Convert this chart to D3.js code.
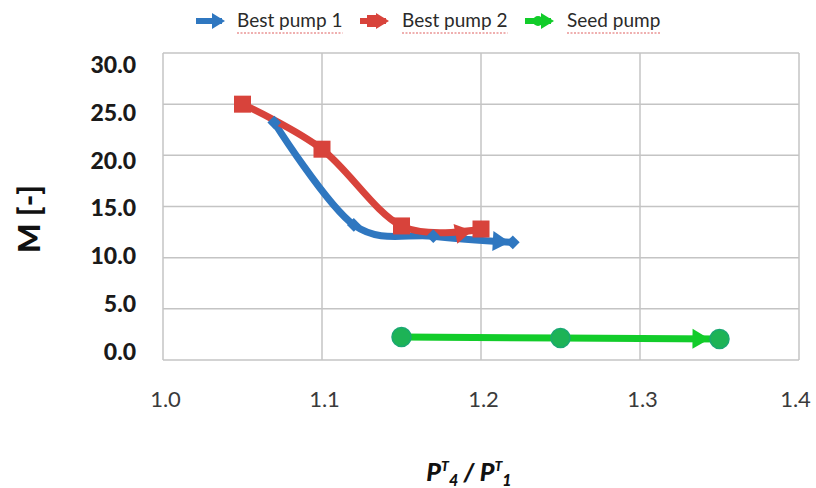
<!DOCTYPE html>
<html><head><meta charset="utf-8">
<script src="https://cdn.jsdelivr.net/npm/d3@7"></script>
<style>body{margin:0;background:#fff;} svg{display:block;}</style>
</head><body>
<svg id="chart" width="816" height="488"></svg>
<script>
// ---- data ----
const bestPump1X = [1.07, 1.12, 1.17, 1.22];
const bestPump1Y = [23.2, 13.2, 12.1, 11.5];
const bestPump2X = [1.05, 1.10, 1.15, 1.20];
const bestPump2Y = [25.0, 20.6, 13.1, 12.8];
const seedPumpX = [1.15, 1.25, 1.35];
const seedPumpY = [2.25, 2.15, 2.05];
const seriesNames = ["Best pump 1", "Best pump 2", "Seed pump"];
const xTicks = [1.0, 1.1, 1.2, 1.3, 1.4];
const yTicks = [0, 5, 10, 15, 20, 25, 30];

const svg = d3.select("#chart");
const L = 163, R = 799, T = 53, B = 360;
const x = d3.scaleLinear().domain([1.0, 1.4]).range([L, R]);
const y = d3.scaleLinear().domain([0, 30]).range([B, T]);
// tick labels in the source are spread slightly differently from the gridlines
const yLab = d3.scaleLinear().domain([0, 30]).range([352, 65]);

const font = "Lato, 'Open Sans', sans-serif";

// gridlines
svg.append("g").selectAll("line.h").data(yTicks).join("line")
  .attr("x1", L).attr("x2", R).attr("y1", d => y(d)).attr("y2", d => y(d))
  .attr("stroke", "#c4c4c4").attr("stroke-width", 1.5);
svg.append("g").selectAll("line.v").data(xTicks).join("line")
  .attr("x1", d => x(d)).attr("x2", d => x(d)).attr("y1", T).attr("y2", B)
  .attr("stroke", "#c4c4c4").attr("stroke-width", 1.5);

// x axis labels via d3 axis
const xAxis = svg.append("g").attr("transform", `translate(2,${B})`)
  .call(d3.axisBottom(x).tickValues(xTicks).tickFormat(d3.format(".1f")).tickSize(0).tickPadding(31));
xAxis.select(".domain").remove();
xAxis.selectAll("text").attr("font-family", font).attr("font-size", 22).attr("fill", "#3a3a3a")
  .attr("dx", d => d === 1.4 ? -6 : 0);

// y axis labels
const yAxis = svg.append("g").attr("transform", `translate(136,0)`)
  .call(d3.axisLeft(yLab).tickValues(yTicks).tickFormat(d3.format(".1f")).tickSize(0).tickPadding(0));
yAxis.select(".domain").remove();
yAxis.selectAll("text").attr("font-family", font).attr("font-size", 23).attr("font-weight", "900").attr("fill", "#1a1a1a");

// axis titles
svg.append("text").attr("transform", "translate(40,219) rotate(-90)")
  .attr("text-anchor", "middle").attr("font-family", font).attr("font-size", 31)
  .attr("font-weight", "900").attr("fill", "#111").text("M [-]");

const xt = svg.append("text").attr("x", 469).attr("y", 481).attr("text-anchor", "middle")
  .attr("font-family", font).attr("font-size", 25).attr("font-weight", "900")
  .attr("font-style", "italic").attr("fill", "#111");
xt.append("tspan").text("P");
xt.append("tspan").attr("font-size", 14).attr("dy", -10).text("T");
xt.append("tspan").attr("font-size", 16).attr("dy", 15).text("4");
xt.append("tspan").attr("dy", -5).text(" / P");
xt.append("tspan").attr("font-size", 14).attr("dy", -10).text("T");
xt.append("tspan").attr("font-size", 16).attr("dy", 15).text("1");

// arrow markers
const defs = svg.append("defs");
function arrow(id, color, back) {
  defs.append("marker").attr("id", id).attr("markerUnits", "userSpaceOnUse")
    .attr("viewBox", "-2 -12 44 24").attr("markerWidth", 44).attr("markerHeight", 24)
    .attr("refX", 17 + back).attr("refY", 0).attr("orient", "auto")
    .append("path").attr("d", "M0,-10 L17,0 L0,10 Z").attr("fill", color);
}
const blue = "#2f77c0", red = "#d8433b", green = "#12cc2a";
arrow("aBlue", blue, 3); arrow("aRed", red, 9); arrow("aGreen", green, 10);

const curve = d3.curveCatmullRom.alpha(0);
function series(xs, ys, color, mk) {
  const pts = xs.map((d, i) => [d, ys[i]]);
  svg.append("path").datum(pts)
    .attr("d", d3.line().x(d => x(d[0])).y(d => y(d[1])).curve(mk === "circle" ? d3.curveLinear : curve))
    .attr("fill", "none").attr("stroke", color).attr("stroke-width", 7)
    .attr("stroke-linecap", "round").attr("stroke-linejoin", "round")
    .attr("marker-end", `url(#${mk === "circle" ? "aGreen" : mk === "square" ? "aRed" : "aBlue"})`);
  return pts;
}
const p1 = series(bestPump1X, bestPump1Y, blue, "diamond");
const p2 = series(bestPump2X, bestPump2Y, red, "square");
const p3 = series(seedPumpX, seedPumpY, green, "circle");

svg.append("g").selectAll("path").data(p1).join("path")
  .attr("d", d3.symbol(d3.symbolDiamond2, 120)())
  .attr("transform", d => `translate(${x(d[0])},${y(d[1])})`).attr("fill", blue);
svg.append("g").selectAll("rect").data(p2).join("rect")
  .attr("x", d => x(d[0]) - 8.5).attr("y", d => y(d[1]) - 8.5).attr("width", 17).attr("height", 17)
  .attr("fill", red);
svg.append("g").selectAll("circle").data(p3).join("circle")
  .attr("cx", d => x(d[0])).attr("cy", d => y(d[1])).attr("r", 9.5)
  .attr("fill", "#1db356").attr("stroke", "#1aa872").attr("stroke-width", 1.5);

// legend
const legX = [196, 360, 525];
const legTX = [237, 402, 567];
const legColors = [blue, red, green];
const lg = svg.append("g");
seriesNames.forEach((n, i) => {
  defs.append("marker").attr("id", "lg" + i).attr("markerUnits", "userSpaceOnUse")
    .attr("viewBox", "-2 -10 30 20").attr("markerWidth", 30).attr("markerHeight", 20)
    .attr("refX", 10).attr("refY", 0).attr("orient", "auto")
    .append("path").attr("d", "M0,-8 L13,0 L0,8 Z").attr("fill", legColors[i]);
  lg.append("line").attr("x1", legX[i]).attr("x2", legX[i] + 26).attr("y1", 21).attr("y2", 21)
    .attr("stroke", legColors[i]).attr("stroke-width", 6)
    .attr("marker-end", "url(#lg" + i + ")");
  if (i === 1) lg.append("rect").attr("x", legX[i] + 7).attr("y", 15).attr("width", 12).attr("height", 12).attr("fill", red);
  if (i === 2) lg.append("circle").attr("cx", legX[i] + 13).attr("cy", 21).attr("r", 5).attr("fill", green);
  const t = lg.append("text").attr("x", legTX[i]).attr("y", 27).attr("font-family", font)
    .attr("font-size", 19).attr("fill", "#2a2a2a").text(n);
  const w = t.node().getComputedTextLength();
  lg.append("line").attr("x1", legTX[i]).attr("x2", legTX[i] + w).attr("y1", 33).attr("y2", 33)
    .attr("stroke", "#e06060").attr("stroke-width", 1.2).attr("stroke-dasharray", "2,1.5");
});
</script>
</body></html>
